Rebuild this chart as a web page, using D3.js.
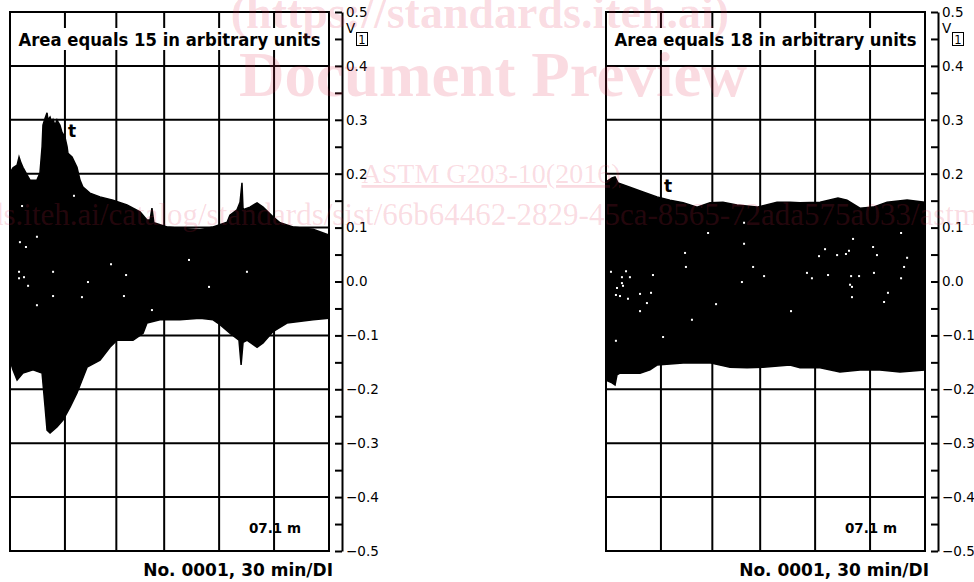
<!DOCTYPE html>
<html>
<head>
<meta charset="utf-8">
<script src="https://cdn.jsdelivr.net/npm/d3@7"></script>
<style>
  html, body { margin: 0; padding: 0; background: #fff; }
  svg { display: block; }
</style>
</head>
<body>
<div id="chart"></div>
<script>
// time axis in minutes (6 divisions, 30 min/DI), values in volts
const gridMinutes = [0, 31, 60, 87, 118, 149, 180];
const gridVolts = [-0.5, -0.4, -0.3, -0.2, -0.1, 0, 0.1, 0.2, 0.3, 0.4, 0.5];
const tickVolts = [-0.5, -0.45, -0.4, -0.35, -0.3, -0.25, -0.2, -0.15, -0.1, -0.05, 0,
  0.05, 0.1, 0.15, 0.2, 0.25, 0.3, 0.35, 0.4, 0.45, 0.5];

const titles = ["Area equals 15 in arbitrary units", "Area equals 18 in arbitrary units"];
const footers = ["No. 0001, 30 min/DI", "No. 0001, 30 min/DI"];
const depthLabels = ["07.1 m", "07.1 m"];
const markerT = [[32.7, 0.268], [32.7, 0.166]];

// upper / lower envelope of the noise signal [minutes, volts]
const leftUpper = [[0, 0.201], [1.7, 0.211], [4.0, 0.216], [5.1, 0.231], [6.2, 0.220], [7.3, 0.212],
  [9.6, 0.198], [11.3, 0.188], [15.2, 0.188], [16.9, 0.201], [18.1, 0.250], [18.6, 0.290],
  [19.8, 0.303], [20.9, 0.313], [21.4, 0.300], [22.6, 0.305], [23.7, 0.294], [24.3, 0.300],
  [25.4, 0.290], [26.5, 0.300], [27.1, 0.296], [28.2, 0.290], [29.3, 0.277], [31.0, 0.268],
  [32.2, 0.250], [32.7, 0.238], [35.0, 0.231], [37.8, 0.212], [39.5, 0.188], [41.2, 0.175],
  [45.1, 0.164], [50.8, 0.157], [58.1, 0.151], [66.0, 0.142], [73.4, 0.129], [77.3, 0.114],
  [79.0, 0.114], [80.1, 0.136], [81.2, 0.109], [88.6, 0.101], [95.9, 0.099], [107.2, 0.096],
  [114.6, 0.101], [122.5, 0.110], [124.1, 0.123], [128.1, 0.133], [129.8, 0.147], [130.9, 0.183],
  [131.5, 0.133], [135.4, 0.138], [139.4, 0.146], [142.8, 0.138], [148.4, 0.120], [152.4, 0.109],
  [159.7, 0.101], [171.0, 0.097], [180, 0.086]];
const leftLower = [[0, -0.146], [1.7, -0.164], [4.0, -0.183], [7.3, -0.170], [13.0, -0.164],
  [18.1, -0.170], [19.8, -0.233], [20.9, -0.276], [22.6, -0.281], [26.5, -0.270], [29.9, -0.257],
  [33.9, -0.233], [37.8, -0.207], [40.6, -0.183], [43.5, -0.159], [50.8, -0.146], [56.4, -0.122],
  [60.4, -0.109], [69.4, -0.109], [75.1, -0.096], [77.3, -0.077], [84.6, -0.071], [95.9, -0.071],
  [107.2, -0.068], [114.6, -0.071], [118.5, -0.080], [124.1, -0.096], [129.2, -0.109],
  [130.4, -0.155], [131.5, -0.113], [133.7, -0.109], [139.4, -0.122], [142.8, -0.114],
  [148.4, -0.093], [156.3, -0.077], [171.0, -0.071], [180, -0.068]];

const rightUpper = [[0, 0.185], [3.4, 0.192], [5.1, 0.194], [6.8, 0.183], [13.5, 0.175],
  [20.9, 0.166], [28.8, 0.157], [36.1, 0.151], [43.5, 0.146], [51.4, 0.138], [58.7, 0.146],
  [66.0, 0.147], [73.9, 0.142], [85.2, 0.138], [96.5, 0.147], [103.8, 0.147], [109.5, 0.146],
  [120.8, 0.147], [130.9, 0.155], [136.0, 0.151], [143.3, 0.136], [150.7, 0.138], [158.6, 0.147],
  [169.9, 0.151], [180, 0.147]];
const rightLower = [[0, -0.183], [3.4, -0.188], [5.1, -0.192], [6.2, -0.173], [7.9, -0.170],
  [19.2, -0.170], [24.8, -0.164], [28.8, -0.155], [43.5, -0.151], [58.7, -0.151], [70.0, -0.159],
  [79.6, -0.160], [88.6, -0.159], [103.8, -0.155], [109.5, -0.160], [120.8, -0.160],
  [132.0, -0.168], [143.3, -0.164], [154.6, -0.164], [165.9, -0.168], [180, -0.164]];

// white specks inside the black band
const leftSpecks = [[6.8, 0.140], [36.1, 0.159], [15.2, 0.083], [5.6, 0.073], [9.0, 0.064],
  [57.0, 0.032], [101.0, 0.040], [5.1, 0.018], [24.3, 0.018], [65.5, 0.012], [5.1, 0.006],
  [7.9, 0.008], [10.2, -0.008], [44.0, -0.001], [24.3, -0.027], [40.6, -0.029], [64.3, -0.027],
  [15.2, -0.044], [80.1, -0.053], [133.7, 0.018], [112.3, -0.010]];
const rightSpecks = [[2.8, 0.018], [11.3, 0.019], [9.0, 0.008], [13.5, 0.008], [6.2, -0.012],
  [9.0, -0.003], [9.6, -0.008], [5.6, -0.025], [7.9, -0.027], [12.4, -0.032], [19.2, -0.023],
  [25.4, -0.021], [23.1, -0.040], [26.5, 0.012], [19.2, -0.055], [5.6, -0.110], [32.2, -0.103],
  [44.6, 0.053], [45.1, 0.027], [57.6, 0.090], [48.5, -0.071], [62.1, -0.042], [77.9, 0.109],
  [77.9, 0.070], [83.0, 0.027], [76.7, -0.001], [89.2, 0.010], [139.4, 0.079], [166.5, 0.090],
  [123.6, 0.060], [120.2, 0.047], [130.4, 0.049], [135.4, 0.051], [137.1, 0.057], [150.7, 0.064],
  [152.9, 0.049], [169.9, 0.044], [168.2, 0.027], [113.4, 0.016], [116.2, 0.006], [125.3, 0.012],
  [138.3, 0.010], [142.8, 0.010], [151.2, 0.016], [166.5, 0.006], [137.7, -0.006], [138.8, -0.010],
  [138.8, -0.029], [159.1, -0.021], [156.9, -0.038], [104.4, -0.055]];

const W = 974, H = 582;
const plotTop = 12, plotBottom = 551;

const svg = d3.select('#chart').append('svg')
  .attr('width', W).attr('height', H)
  .attr('viewBox', [0, 0, W, H]);

const panels = [
  { x0: 10, x1: 329, upper: leftUpper, lower: leftLower, specks: leftSpecks },
  { x0: 606, x1: 925, upper: rightUpper, lower: rightLower, specks: rightSpecks }
];

function drawPanel(p, i) {
  const x = d3.scaleLinear().domain([0, 180]).range([p.x0, p.x1]);
  const y = d3.scaleLinear().domain([-0.5, 0.5]).range([plotBottom, plotTop]);
  const g = svg.append('g');

  g.append('clipPath').attr('id', 'clip' + i)
    .append('rect').attr('x', p.x0).attr('y', plotTop)
    .attr('width', p.x1 - p.x0).attr('height', plotBottom - plotTop);

  // grid
  const grid = g.append('g').attr('stroke', '#000').attr('stroke-width', 2);
  grid.selectAll('.v').data(gridMinutes).join('line')
    .attr('class', 'v')
    .attr('x1', d => x(d)).attr('x2', d => x(d))
    .attr('y1', plotTop).attr('y2', plotBottom);
  grid.selectAll('.h').data(gridVolts).join('line')
    .attr('class', 'h')
    .attr('x1', p.x0 - 1).attr('x2', p.x1 + 1)
    .attr('y1', d => y(d)).attr('y2', d => y(d));

  // signal band
  const line = d3.line().x(d => x(d[0])).y(d => y(d[1]));
  const band = p.upper.concat(p.lower.slice().reverse());
  g.append('path')
    .attr('clip-path', `url(#clip${i})`)
    .attr('d', line(band) + 'Z')
    .attr('fill', '#000')
    .attr('stroke', '#000')
    .attr('stroke-width', 1.5);

  g.append('g').selectAll('rect')
    .data(p.specks)
    .join('rect')
    .attr('x', d => x(d[0]) - 1)
    .attr('y', d => y(d[1]) - 1)
    .attr('width', 2).attr('height', 2)
    .attr('fill', '#fff');

  // title with white backing
  const title = g.append('text')
    .attr('x', (p.x0 + p.x1) / 2).attr('y', 46)
    .attr('text-anchor', 'middle')
    .attr('font-family', 'DejaVu Sans, Verdana, sans-serif')
    .attr('font-weight', 'bold')
    .attr('font-size', 17)
    .attr('textLength', 302)
    .attr('lengthAdjust', 'spacingAndGlyphs')
    .text(titles[i]);
  const bb = title.node().getBBox();
  g.insert('rect', 'text')
    .attr('x', bb.x - 2).attr('y', 28)
    .attr('width', bb.width + 4).attr('height', 22)
    .attr('fill', '#fff');

  g.append('text')
    .attr('x', x(markerT[i][0])).attr('y', y(markerT[i][1]))
    .attr('font-family', 'DejaVu Sans, Verdana, sans-serif')
    .attr('font-weight', 'bold').attr('font-size', 17)
    .text('t');

  g.append('text')
    .attr('x', p.x1 - 28).attr('y', 533)
    .attr('text-anchor', 'end')
    .attr('font-family', 'DejaVu Sans, Verdana, sans-serif')
    .attr('font-weight', 'bold').attr('font-size', 13.5)
    .text(depthLabels[i]);

  g.append('text')
    .attr('x', p.x1 + 4).attr('y', 576)
    .attr('text-anchor', 'end')
    .attr('font-family', 'DejaVu Sans, Verdana, sans-serif')
    .attr('font-weight', 'bold').attr('font-size', 17)
    .text(footers[i]);

  // volt axis on the right
  const ax = p.x1 + 13;
  const axis = g.append('g')
    .attr('transform', `translate(${ax},0)`)
    .call(d3.axisRight(y)
      .tickValues(tickVolts)
      .tickSize(-7)
      .tickSizeOuter(0)
      .tickPadding(4)
      .tickFormat(v => Math.abs(v * 10 - Math.round(v * 10)) < 1e-6 ? d3.format('.1f')(v) : ''));
  axis.select('.domain').attr('stroke-width', 2);
  axis.selectAll('.tick line').attr('stroke-width', 2);
  axis.selectAll('.tick text')
    .attr('font-family', 'DejaVu Sans, Verdana, sans-serif')
    .attr('font-size', 13.5).attr('fill', '#000');

  // unit V with boxed channel 1
  const unit = g.append('g').attr('transform', `translate(${ax + 4},0)`)
    .attr('font-family', 'DejaVu Sans, Verdana, sans-serif');
  unit.append('text').attr('x', 0).attr('y', 33).attr('font-size', 13.5).text('V');
  unit.append('rect').attr('x', 10.5).attr('y', 32.5).attr('width', 11).attr('height', 13)
    .attr('fill', 'none').attr('stroke', '#000').attr('stroke-width', 1);
  unit.append('text').attr('x', 16).attr('y', 43.5).attr('font-size', 11.5)
    .attr('text-anchor', 'middle').text('1');
}

panels.forEach(drawPanel);

// preview watermark lying over the scan
const wm = svg.append('g')
  .attr('font-family', 'Liberation Serif, Times New Roman, serif')
  .attr('fill', '#e0284f').attr('fill-opacity', 0.17)
  .attr('text-anchor', 'middle');
wm.append('text').attr('x', 480).attr('y', 28).attr('font-size', 46).attr('font-weight', 'bold')
  .text('(https://standards.iteh.ai)');
wm.append('text').attr('x', 493).attr('y', 96).attr('font-size', 63).attr('font-weight', 'bold')
  .text('Document Preview');
wm.append('text').attr('x', 491).attr('y', 183).attr('font-size', 28)
  .attr('text-decoration', 'underline')
  .text('ASTM G203-10(2016)');
wm.append('text').attr('x', 483).attr('y', 225).attr('font-size', 31)
  .text('https://standards.iteh.ai/catalog/standards/sist/66b64462-2829-45ca-8565-72ada575a033/astm-g203-102016');
</script>
</body>
</html>
